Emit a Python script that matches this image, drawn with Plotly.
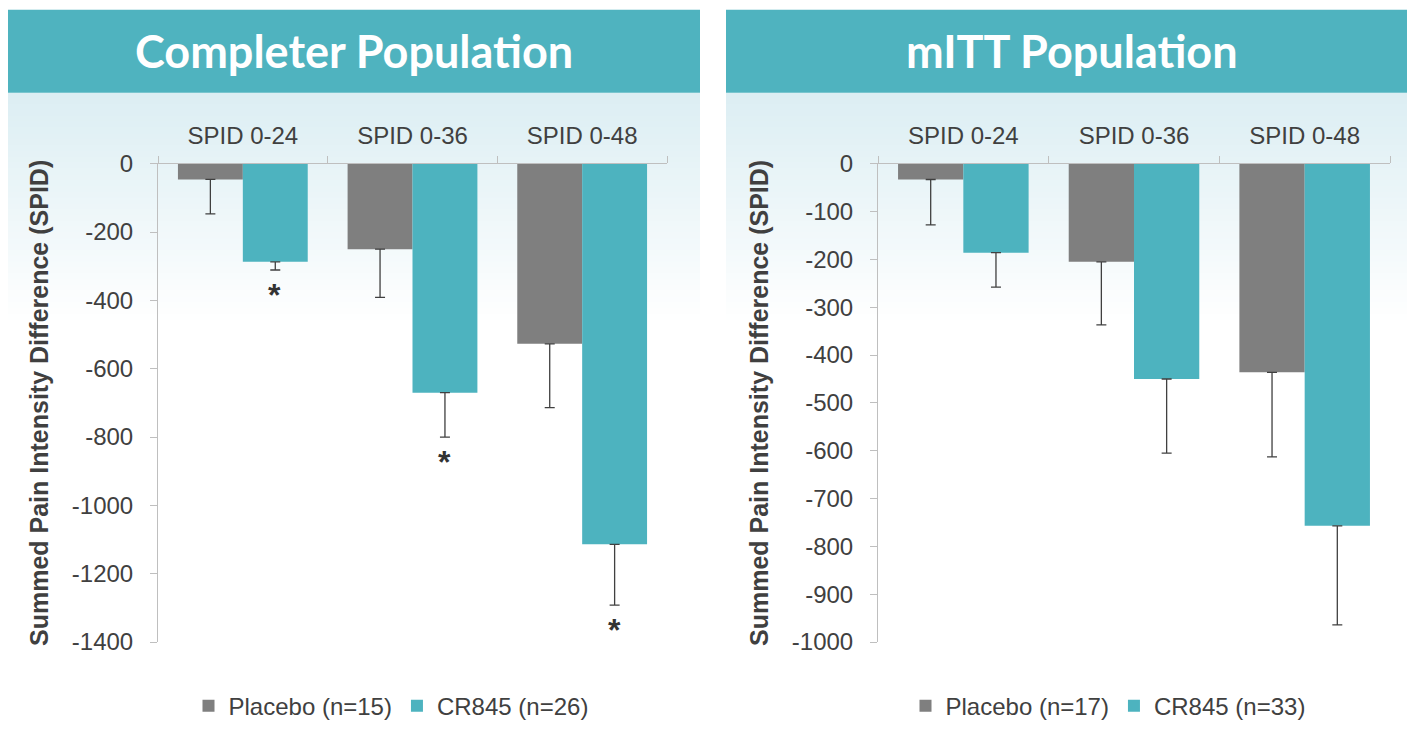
import plotly.graph_objects as go

# ---------------- data ----------------
categories = ["SPID 0-24", "SPID 0-36", "SPID 0-48"]

comp_placebo = [-46, -250, -527]
comp_placebo_err = [101, 141, 187]
comp_cr845 = [-287, -670, -1114]
comp_cr845_err = [24, 130, 178]
comp_sig = ["*", "*", "*"]

mitt_placebo = [-33, -205, -436]
mitt_placebo_err = [95, 132, 177]
mitt_cr845 = [-186, -450, -757]
mitt_cr845_err = [72, 155, 207]
mitt_sig = ["", "", ""]

comp_ticks = [0, -200, -400, -600, -800, -1000, -1200, -1400]
mitt_ticks = [0, -100, -200, -300, -400, -500, -600, -700, -800, -900, -1000]

panel_titles = ["Completer Population", "mITT Population"]
comp_names = ["Placebo (n=15)", "CR845 (n=26)"]
mitt_names = ["Placebo (n=17)", "CR845 (n=33)"]
y_title = "Summed Pain Intensity Difference (SPID)"

# ---------------- style ----------------
W, H = 1407, 729
GRAY = "#7f7f7f"
TEAL = "#4db3bf"
HEADER = "#4fb3bf"
TXT = "#404040"
AX = "#bfbfbf"
FONT = "Liberation Sans"


def fx(x):
    return x / W


def fy(y):
    return 1 - y / H


fig = go.Figure()

panels = [
    dict(xa="x", ya="y", leg="legend", pl=comp_placebo, ple=comp_placebo_err,
         cr=comp_cr845, cre=comp_cr845_err, sig=comp_sig, names=comp_names),
    dict(xa="x2", ya="y2", leg="legend2", pl=mitt_placebo, ple=mitt_placebo_err,
         cr=mitt_cr845, cre=mitt_cr845_err, sig=mitt_sig, names=mitt_names),
]

for p in panels:
    fig.add_trace(go.Bar(
        x=categories, y=p["pl"], name=p["names"][0], xaxis=p["xa"], yaxis=p["ya"],
        legend=p["leg"], marker=dict(color=GRAY, line=dict(width=0)),
        error_y=dict(type="data", symmetric=False, array=[0] * len(p["pl"]),
                     arrayminus=p["ple"], color=TXT, thickness=1.3, width=5),
    ))
    fig.add_trace(go.Bar(
        x=categories, y=p["cr"], name=p["names"][1], xaxis=p["xa"], yaxis=p["ya"],
        legend=p["leg"], marker=dict(color=TEAL, line=dict(width=0)),
        error_y=dict(type="data", symmetric=False, array=[0] * len(p["cr"]),
                     arrayminus=p["cre"], color=TXT, thickness=1.3, width=5),
    ))
    for c, v, e, s in zip(categories, p["cr"], p["cre"], p["sig"]):
        if s:
            fig.add_annotation(x=c, y=v - e, xref=p["xa"], yref=p["ya"], text=s,
                               showarrow=False, xshift=32, yshift=-5, yanchor="top",
                               font=dict(family=FONT, size=32, color="#333333", weight="bold"))

# header bands and gradient backgrounds
shapes = []
for (x0, x1) in [(8, 700), (726, 1407)]:
    steps = 40
    top, bottom = 94, 330
    for i in range(steps):
        t = i / (steps - 1)
        r = round(0xdc + (255 - 0xdc) * t)
        g = round(0xee + (255 - 0xee) * t)
        b = round(0xf3 + (255 - 0xf3) * t)
        ya = top + (bottom - top) * i / steps
        yb = top + (bottom - top) * (i + 1) / steps + 1
        shapes.append(dict(type="rect", xref="paper", yref="paper", layer="below",
                           x0=fx(x0), x1=fx(x1), y0=fy(yb), y1=fy(ya),
                           fillcolor=f"rgb({r},{g},{b})", line=dict(width=0)))
    shapes.append(dict(type="rect", xref="paper", yref="paper", layer="below",
                       x0=fx(x0), x1=fx(x1), y0=fy(94), y1=fy(10),
                       fillcolor=HEADER, line=dict(width=0)))

annotations = list(fig.layout.annotations)
for title, cx in zip(panel_titles, [354, 1072]):
    annotations.append(dict(text=title, x=fx(cx), y=fy(52), xref="paper", yref="paper",
                            showarrow=False, xanchor="center", yanchor="middle",
                            font=dict(family="Lato", size=45, color="white", weight="bold")))

tickfont = dict(family=FONT, size=24, color=TXT)
legfont = dict(family=FONT, size=24, color=TXT)
xcommon = dict(type="category", side="top", showline=True, linecolor=AX, linewidth=1,
               ticks="outside", tickson="boundaries", ticklen=7, tickcolor=AX,
               tickfont=tickfont, showgrid=False, zeroline=False, automargin=False,
               ticklabelstandoff=9, fixedrange=True)
ycommon = dict(showline=True, linecolor=AX, linewidth=1, ticks="outside", ticklen=7,
               tickcolor=AX, tickfont=tickfont, showgrid=False, zeroline=False,
               automargin=False, fixedrange=True, ticklabelstandoff=12,
               title=dict(text=y_title, standoff=16,
                          font=dict(family=FONT, size=25, color=TXT, weight="bold")))

fig.update_layout(
    width=W, height=H, margin=dict(l=0, r=0, t=0, b=0),
    paper_bgcolor="white", plot_bgcolor="rgba(0,0,0,0)",
    barmode="group", bargap=0.235, bargroupgap=0,
    shapes=shapes, annotations=annotations,
    xaxis=dict(domain=[fx(158), fx(667)], anchor="y", **xcommon),
    yaxis=dict(domain=[fy(651), fy(166)], anchor="x", range=[-1400, 0],
               tickvals=comp_ticks, ticktext=[str(v) for v in comp_ticks], **ycommon),
    xaxis2=dict(domain=[fx(878), fx(1390)], anchor="y2", **xcommon),
    yaxis2=dict(domain=[fy(651), fy(166)], anchor="x2", range=[-1000, 0],
                tickvals=mitt_ticks, ticktext=[str(v) for v in mitt_ticks], **ycommon),
    legend=dict(x=fx(391), y=fy(716), xanchor="center", yanchor="middle",
                orientation="h", font=legfont, bgcolor="rgba(0,0,0,0)"),
    legend2=dict(x=fx(1108), y=fy(716), xanchor="center", yanchor="middle",
                 orientation="h", font=legfont, bgcolor="rgba(0,0,0,0)"),
    showlegend=True,
)

fig.write_html("out.html")
